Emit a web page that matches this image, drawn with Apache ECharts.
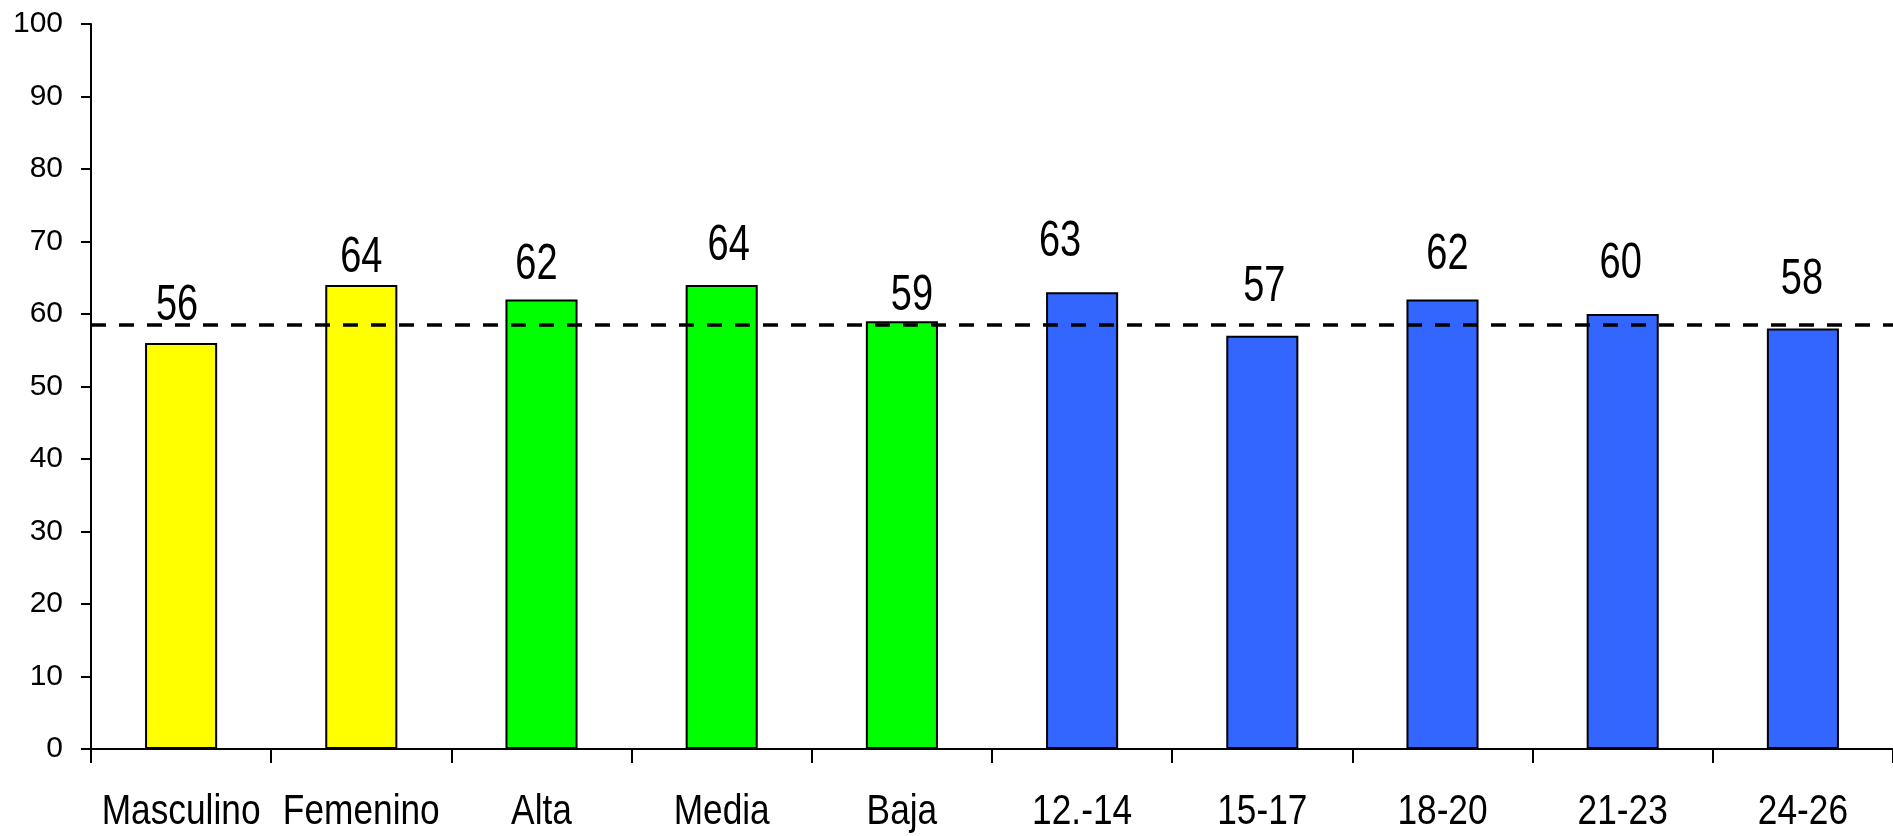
<!DOCTYPE html>
<html>
<head>
<meta charset="utf-8">
<script src="https://cdn.jsdelivr.net/npm/echarts@6/dist/echarts.min.js"></script>
<style>
html,body{margin:0;padding:0;background:#fff;}
#chart{width:1893px;height:836px;}
</style>
</head>
<body>
<div id="chart"></div>
<script>
// ---- data ----
var categories = ['Masculino', 'Femenino', 'Alta', 'Media', 'Baja', '12.-14', '15-17', '18-20', '21-23', '24-26'];
var values = [56, 64, 62, 64, 59, 63, 57, 62, 60, 58];
var referenceValue = 58.5;
var yTicks = [0, 10, 20, 30, 40, 50, 60, 70, 80, 90, 100];

// ---- styles (not data) ----
var barColors = ['#FFFF00', '#FFFF00', '#00FF00', '#00FF00', '#00FF00', '#3366FF', '#3366FF', '#3366FF', '#3366FF', '#3366FF'];
// [horizontal shift px, gap between bar top and label baseline px]
var labelShift = [[-4,19],[0,9],[-5,17],[7,21],[10,8],[-22,33],[2,31],[5,27],[-2,32],[-1,31]];
var baseFont = "'Liberation Sans', Arial, sans-serif";
var baselineK = 0.3465; // distance from 'middle' to alphabetic baseline, in em
var valueFontSize = 50, valueScaleX = 0.76;
var catFontSize = 42, catScaleX = 0.84, catBaselineGap = 78;

var barData = values.map(function (v, i) {
  return { value: v, itemStyle: { color: barColors[i] } };
});
var labelData = values.map(function (v, i) { return [i, v]; });
var catData = categories.map(function (c, i) { return [i, 0]; });

var chart = echarts.init(document.getElementById('chart'), null, { renderer: 'canvas' });
chart.setOption({
  animation: false,
  backgroundColor: '#ffffff',
  grid: { left: 91, right: -7, top: 24, bottom: 87, containLabel: false },
  xAxis: {
    type: 'category',
    data: categories,
    boundaryGap: true,
    axisLine: { show: true, lineStyle: { color: '#000', width: 2 } },
    axisTick: { show: true, length: 14, inside: false, lineStyle: { color: '#000', width: 2 } },
    axisLabel: { show: false }
  },
  yAxis: {
    type: 'value',
    min: yTicks[0],
    max: yTicks[yTicks.length - 1],
    interval: yTicks[1] - yTicks[0],
    splitLine: { show: false },
    axisLine: { show: true, lineStyle: { color: '#000', width: 2 } },
    axisTick: { show: true, length: 10, inside: false, lineStyle: { color: '#000', width: 2 } },
    axisLabel: { margin: 28, color: '#000', fontSize: 30, fontFamily: baseFont }
  },
  series: [{
    type: 'bar',
    data: barData,
    barWidth: '40%',
    itemStyle: { borderColor: '#000', borderWidth: 2 },
    markLine: {
      silent: true,
      symbol: 'none',
      label: { show: false },
      lineStyle: { color: '#000', width: 3.5, type: [15, 13] },
      data: [{ yAxis: referenceValue }]
    }
  }, {
    // value labels (condensed text, like the original)
    type: 'custom',
    z: 10,
    silent: true,
    data: labelData,
    encode: { x: 0, y: 1 },
    renderItem: function (params, api) {
      var i = api.value(0);
      var pt = api.coord([i, api.value(1)]);
      var s = labelShift[i];
      return {
        type: 'text',
        x: pt[0] + s[0],
        y: pt[1] - s[1] - baselineK * valueFontSize,
        scaleX: valueScaleX,
        style: {
          text: String(api.value(1)),
          fontSize: valueFontSize,
          fontFamily: baseFont,
          fill: '#000',
          align: 'center',
          verticalAlign: 'middle'
        }
      };
    }
  }, {
    // category labels (condensed text)
    type: 'custom',
    z: 10,
    silent: true,
    data: catData,
    encode: { x: 0, y: 1 },
    renderItem: function (params, api) {
      var i = api.value(0);
      var pt = api.coord([i, 0]);
      return {
        type: 'text',
        x: pt[0],
        y: pt[1] + catBaselineGap - baselineK * catFontSize,
        scaleX: catScaleX,
        style: {
          text: categories[i],
          fontSize: catFontSize,
          fontFamily: baseFont,
          fill: '#000',
          align: 'center',
          verticalAlign: 'middle'
        }
      };
    }
  }]
});
</script>
</body>
</html>
